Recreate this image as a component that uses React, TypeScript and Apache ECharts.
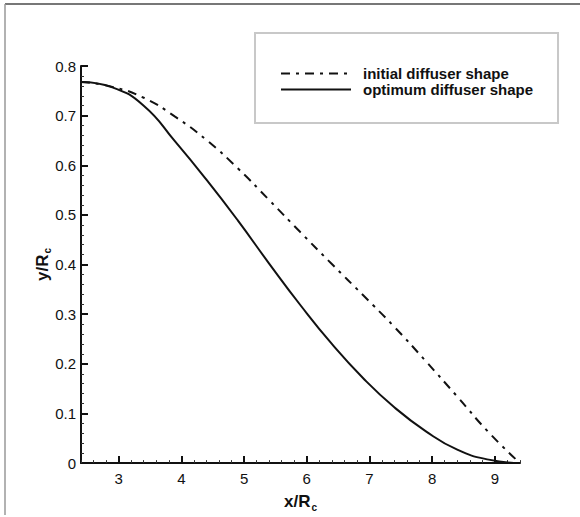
import React, { useEffect, useRef } from "react";
import * as echarts from "echarts";

// x/Rc positions and y/Rc values
const xInitial = [2.4, 2.9, 3.4, 3.9, 4.4, 4.9, 5.4, 5.9, 6.4, 6.9, 7.4, 7.9, 8.4, 8.9, 9.4];
const yInitial = [0.768, 0.758, 0.736, 0.698, 0.651, 0.594, 0.53, 0.465, 0.401, 0.338, 0.274, 0.205, 0.134, 0.062, 0.0];

const xOptimum = [2.4, 2.9, 3.4, 3.9, 4.4, 4.9, 5.4, 5.9, 6.4, 6.9, 7.4, 7.9, 8.4, 8.9, 9.4];
const yOptimum = [0.768, 0.757, 0.72, 0.648, 0.571, 0.489, 0.402, 0.318, 0.24, 0.171, 0.112, 0.064, 0.027, 0.007, 0.0];

const seriesNames = ["initial diffuser shape", "optimum diffuser shape"];
const xMajorTicks = [3, 4, 5, 6, 7, 8, 9];

const FONT = "'Liberation Sans', Arial, Helvetica, sans-serif";

export default function App() {
  const ref = useRef<HTMLDivElement>(null);

  useEffect(() => {
    if (!ref.current) return;
    const chart = echarts.init(ref.current, null, { renderer: "svg" });

    const pairs = (xs: number[], ys: number[]) => xs.map((x, i) => [x, ys[i]]);

    const nameRich = {
      a: { fontSize: 17, fontWeight: "bold", fontFamily: FONT, color: "#111", lineHeight: 20, height: 20, verticalAlign: "middle" },
      s: { fontSize: 10, fontWeight: "bold", fontFamily: FONT, color: "#111", lineHeight: 10, height: 10, padding: [11, 0, 0, 1], verticalAlign: "middle" },
    };

    chart.setOption({
      animation: false,
      backgroundColor: "#ffffff",
      textStyle: { fontFamily: FONT },
      grid: { left: 81, right: 60, top: 66, bottom: 51 },
      graphic: [
        { type: "line", shape: { x1: 5, y1: 4, x2: 580, y2: 4 }, style: { stroke: "#777", lineWidth: 2 }, silent: true },
        { type: "line", shape: { x1: 5, y1: 4, x2: 5, y2: 515 }, style: { stroke: "#999", lineWidth: 1.5 }, silent: true },
      ],
      legend: {
        orient: "vertical",
        left: 255,
        top: 33,
        padding: [33, 25, 26, 25],
        borderColor: "#c8c8c8",
        borderWidth: 2,
        backgroundColor: "#fff",
        itemWidth: 70,
        itemHeight: 14,
        itemGap: 1,
        data: seriesNames,
        itemStyle: { color: "rgba(0,0,0,0)", borderColor: "rgba(0,0,0,0)", borderWidth: 0, opacity: 0 },
        textStyle: { fontSize: 15, fontWeight: "bold", color: "#111", fontFamily: FONT, padding: [0, 0, 0, 7] },
      },
      xAxis: [
        {
          type: "value",
          min: 2.4,
          max: 9.4,
          interval: 0.2,
          axisLine: { show: true, onZero: false, lineStyle: { color: "#111", width: 2 } },
          axisTick: { show: true, inside: true, length: 3, lineStyle: { color: "#333", width: 1 } },
          axisLabel: { show: false },
          splitLine: { show: false },
        },
        {
          type: "value",
          min: 2.4,
          max: 9.4,
          position: "bottom",
          axisLine: { show: false },
          axisTick: { show: true, inside: true, length: 7, customValues: xMajorTicks, lineStyle: { color: "#111", width: 2 } },
          axisLabel: { show: true, customValues: xMajorTicks, fontSize: 15, color: "#111", margin: 8, fontFamily: FONT },
          splitLine: { show: false },
          name: "{a|x/R}{s|c}",
          nameLocation: "middle",
          nameGap: 25,
          nameTextStyle: { rich: nameRich },
        },
      ],
      yAxis: {
        type: "value",
        min: 0,
        max: 0.8,
        interval: 0.1,
        axisLine: { show: true, onZero: false, lineStyle: { color: "#111", width: 2 } },
        axisTick: { show: true, inside: true, length: 7, lineStyle: { color: "#111", width: 2 } },
        minorTick: { show: true, splitNumber: 5, length: 3, lineStyle: { color: "#333", width: 1 } },
        axisLabel: { fontSize: 15, color: "#111", margin: 5, fontFamily: FONT },
        splitLine: { show: false },
        minorSplitLine: { show: false },
        name: "{a|y/R}{s|c}",
        nameLocation: "middle",
        nameGap: 29,
        nameMoveOverlap: false,
        nameTextStyle: { rich: nameRich },
      },
      series: [
        {
          name: seriesNames[0],
          type: "line",
          xAxisIndex: 0,
          data: pairs(xInitial, yInitial),
          smooth: 0.5,
          symbol: "none",
          lineStyle: { color: "#111", width: 2, type: [9, 6, 3, 6] },
          itemStyle: { color: "#111" },
        },
        {
          name: seriesNames[1],
          type: "line",
          xAxisIndex: 0,
          data: pairs(xOptimum, yOptimum),
          smooth: 0.5,
          symbol: "none",
          lineStyle: { color: "#111", width: 2, type: "solid" },
          itemStyle: { color: "#111" },
        },
      ],
    });

    return () => chart.dispose();
  }, []);

  return (
    <div
      ref={ref}
      style={{ position: "fixed", left: 0, top: 0, width: 580, height: 517, background: "#fff" }}
    />
  );
}
